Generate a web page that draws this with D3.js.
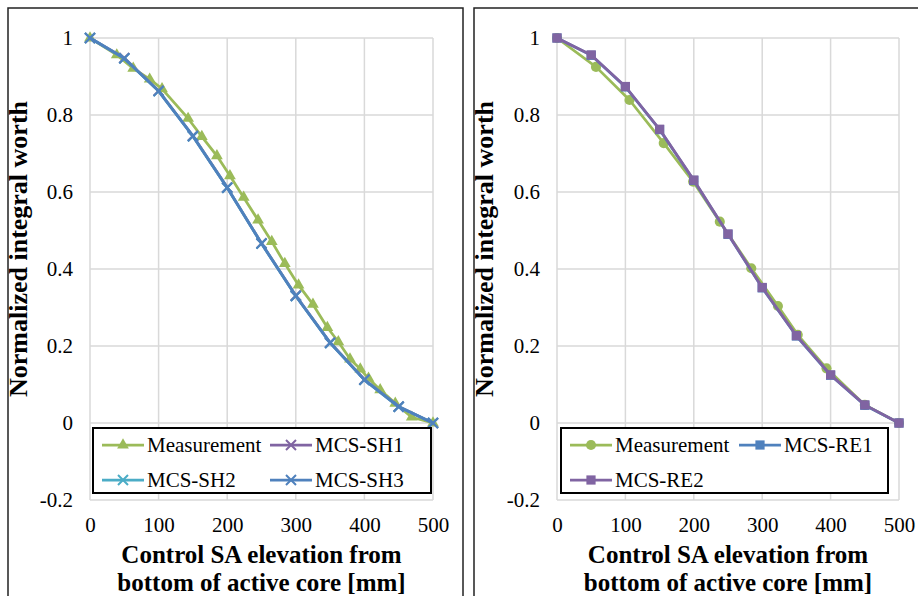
<!DOCTYPE html>
<html>
<head>
<meta charset="utf-8">
<script src="https://cdn.jsdelivr.net/npm/d3@7"></script>
<style>
  body { margin: 0; background: #fff; }
  svg { display: block; }
  svg text { font-family: 'Liberation Serif', 'DejaVu Serif', 'Times New Roman', serif; }
</style>
</head>
<body>
<svg id="chart" width="918" height="596"></svg>
<script>
// x ticks, y ticks
const xTicks = [0, 100, 200, 300, 400, 500];
const yTicks = [-0.2, 0, 0.2, 0.4, 0.6, 0.8, 1];

// left panel: measurement (triangles) and MCS-SH series
const measLeftX = [0, 39, 63, 87, 105, 143, 163, 185, 204, 224, 245, 265, 284, 304, 325, 346, 362, 379, 394, 406, 423, 445, 469, 500];
const measLeftY = [1.0, 0.956, 0.921, 0.893, 0.868, 0.791, 0.744, 0.694, 0.642, 0.586, 0.527, 0.471, 0.414, 0.358, 0.308, 0.248, 0.211, 0.166, 0.140, 0.116, 0.086, 0.051, 0.015, 0.0];
const mcsX = [0, 50, 100, 150, 200, 250, 300, 350, 400, 450, 500];
const sh1Y = [1.0, 0.948, 0.863, 0.746, 0.612, 0.467, 0.331, 0.209, 0.113, 0.043, 0.0];
const sh2Y = [1.0, 0.947, 0.862, 0.745, 0.611, 0.466, 0.330, 0.208, 0.112, 0.042, 0.0];
const sh3Y = [1.0, 0.947, 0.862, 0.745, 0.611, 0.466, 0.330, 0.208, 0.112, 0.042, 0.0];

// right panel: measurement (circles) and MCS-RE series
const measRightX = [0, 57, 106, 156, 199, 238, 284, 323, 352, 394, 450, 500];
const measRightY = [1.0, 0.925, 0.839, 0.727, 0.627, 0.523, 0.402, 0.304, 0.229, 0.142, 0.047, 0.0];
const re1Y = [1.0, 0.955, 0.873, 0.762, 0.630, 0.490, 0.351, 0.226, 0.124, 0.046, 0.0];
const re2Y = [1.0, 0.956, 0.874, 0.763, 0.631, 0.491, 0.352, 0.227, 0.125, 0.047, 0.0];

const green = '#9bbb59', purple = '#8064a2', cyan = '#4bacc6', blue = '#4f81bd';
const serif = "'Liberation Serif', 'DejaVu Serif', 'Times New Roman', serif";

const svg = d3.select('#chart');

// panel frames
svg.append('rect').attr('x', 8).attr('y', 8).attr('width', 455).attr('height', 620)
  .attr('fill', 'none').attr('stroke', '#222').attr('stroke-width', 1.5);
svg.append('rect').attr('x', 474).attr('y', 8).attr('width', 460).attr('height', 620)
  .attr('fill', 'none').attr('stroke', '#222').attr('stroke-width', 1.5);

const crossPath = 'M-5,-5L5,5M-5,5L5,-5';

function marker(sel, kind, color) {
  if (kind === 'cross') {
    sel.append('path').attr('d', crossPath).attr('fill', 'none')
      .attr('stroke', color).attr('stroke-width', 2);
  } else {
    const type = kind === 'triangle' ? d3.symbolTriangle : kind === 'square' ? d3.symbolSquare : d3.symbolCircle;
    const size = kind === 'triangle' ? 60 : kind === 'square' ? 85 : 80;
    sel.append('path').attr('d', d3.symbol().type(type).size(size)()).attr('fill', color);
  }
}

function drawPanel(p) {
  const x = d3.scaleLinear().domain([0, 500]).range([p.x0, p.x1]);
  const y = d3.scaleLinear().domain([-0.2, 1]).range([500, 38]);
  const g = svg.append('g');

  // grid
  g.selectAll('.vg').data(xTicks).enter().append('line')
    .attr('x1', d => x(d)).attr('x2', d => x(d)).attr('y1', y(1)).attr('y2', y(-0.2))
    .attr('stroke', '#d9d9d9').attr('stroke-width', 1.5);
  g.selectAll('.hg').data(yTicks).enter().append('line')
    .attr('x1', x(0)).attr('x2', x(500)).attr('y1', d => y(d)).attr('y2', d => y(d))
    .attr('stroke', '#d9d9d9').attr('stroke-width', 1.5);

  // tick labels via axes
  const ya = g.append('g').attr('transform', 'translate(' + (x(0) - 14) + ',0)')
    .call(d3.axisLeft(y).tickValues(yTicks).tickSize(0).tickFormat(d => String(d)));
  ya.select('.domain').remove();
  ya.attr('font-family', null);
  ya.selectAll('text').style('font-family', serif).attr('font-size', 21).attr('fill', '#000').attr('dy', '0.32em');

  const xa = g.append('g').attr('transform', 'translate(0,' + (y(-0.2) + 14) + ')')
    .call(d3.axisBottom(x).tickValues(xTicks).tickSize(0));
  xa.select('.domain').remove();
  xa.attr('font-family', null);
  xa.selectAll('text').style('font-family', serif).attr('font-size', 21).attr('fill', '#000');

  // axis titles
  const cx = (p.x0 + p.x1) / 2;
  const xt = g.append('text').attr('text-anchor', 'middle').style('font-family', serif)
    .attr('font-weight', 'bold').attr('font-size', 25);
  xt.append('tspan').attr('x', cx).attr('y', 563).text('Control SA elevation from');
  xt.append('tspan').attr('x', cx).attr('y', 591).text('bottom of active core [mm]');

  g.append('text').attr('transform', 'translate(' + (p.titleX + 9) + ',249) rotate(-90)')
    .attr('text-anchor', 'middle').style('font-family', serif).attr('font-weight', 'bold')
    .attr('font-size', 26).text('Normalized integral worth');

  // series
  const line = d3.line().x(d => x(d[0])).y(d => y(d[1]));
  p.series.forEach(s => {
    const pts = s.xs.map((v, i) => [v, s.ys[i]]);
    g.append('path').datum(pts).attr('d', line).attr('fill', 'none')
      .attr('stroke', s.color).attr('stroke-width', 2.75).attr('stroke-linejoin', 'round');
    g.selectAll(null).data(pts).enter().append('g')
      .attr('transform', d => 'translate(' + x(d[0]) + ',' + y(d[1]) + ')')
      .each(function () { marker(d3.select(this), s.marker, s.color); });
  });

  // legend
  const lg = g.append('g');
  lg.append('rect').attr('x', p.legend.x).attr('y', 428).attr('width', p.legend.w).attr('height', 65)
    .attr('fill', '#fff').attr('stroke', '#000').attr('stroke-width', 2);
  p.series.forEach((s, i) => {
    const col = i % 2, row = Math.floor(i / 2);
    const lx = p.legend.x + 9 + col * p.legend.colW;
    const ly = 445 + row * 35;
    lg.append('line').attr('x1', lx).attr('x2', lx + 42).attr('y1', ly).attr('y2', ly)
      .attr('stroke', s.color).attr('stroke-width', 2.75);
    const m = lg.append('g').attr('transform', 'translate(' + (lx + 21) + ',' + ly + ')');
    marker(m, s.marker, s.color);
    lg.append('text').attr('x', lx + 45).attr('y', ly).attr('dy', '0.35em')
      .style('font-family', serif).attr('font-size', 21).text(s.name);
  });
}

drawPanel({
  x0: 90, x1: 433, titleX: 18,
  legend: { x: 93, w: 338, colW: 168 },
  series: [
    { name: 'Measurement', xs: measLeftX, ys: measLeftY, color: green, marker: 'triangle' },
    { name: 'MCS-SH1', xs: mcsX, ys: sh1Y, color: purple, marker: 'cross' },
    { name: 'MCS-SH2', xs: mcsX, ys: sh2Y, color: cyan, marker: 'cross' },
    { name: 'MCS-SH3', xs: mcsX, ys: sh3Y, color: blue, marker: 'cross' }
  ]
});

drawPanel({
  x0: 557, x1: 899, titleX: 484,
  legend: { x: 561, w: 327, colW: 169 },
  series: [
    { name: 'Measurement', xs: measRightX, ys: measRightY, color: green, marker: 'circle' },
    { name: 'MCS-RE1', xs: mcsX, ys: re1Y, color: blue, marker: 'square' },
    { name: 'MCS-RE2', xs: mcsX, ys: re2Y, color: purple, marker: 'square' }
  ]
});
</script>
</body>
</html>
